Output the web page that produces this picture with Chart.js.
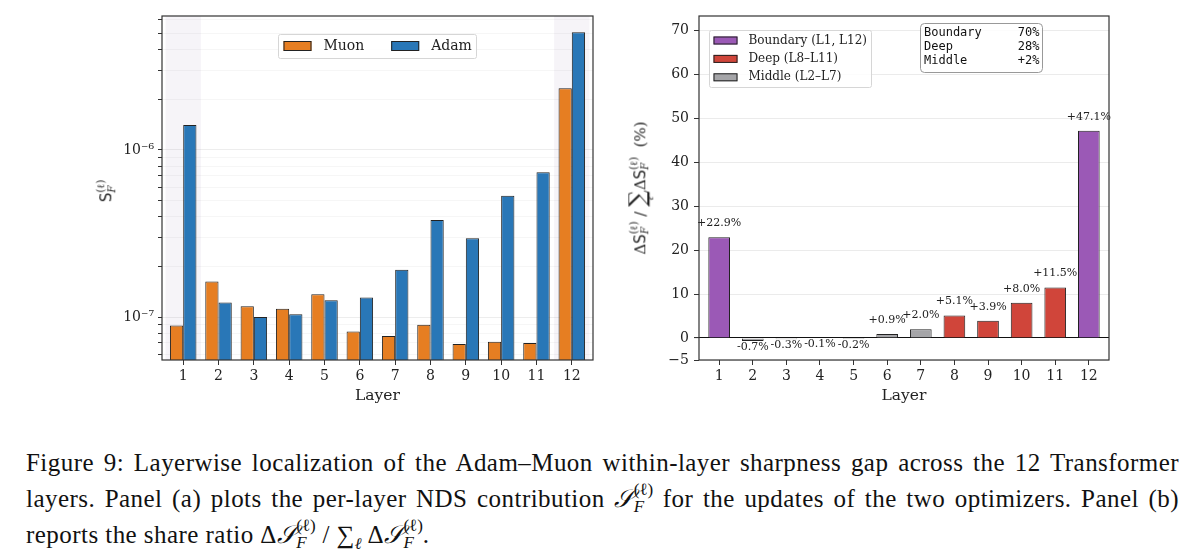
<!DOCTYPE html>
<html>
<head>
<meta charset="utf-8">
<script src="https://cdn.jsdelivr.net/npm/chart.js@4.4.1/dist/chart.umd.min.js"></script>
<style>
  body { margin: 0; background: #fff; width: 1200px; height: 557px; overflow: hidden; position: relative; }
  canvas { position: absolute; top: 0; }
  #leftChart { left: 0; }
  #rightChart { left: 600px; }
  .ytitle { position: absolute; transform: translate(-50%, -50%) rotate(-90deg); white-space: nowrap;
            font-family: 'DejaVu Serif'; font-size: 15px; color: #222; }
  .sans { font-family: 'DejaVu Sans'; }
  .it { font-style: italic; }
  .ss { display: inline-block; vertical-align: -0.32em; line-height: 1.05; font-size: 0.68em; text-align: left; }
  .ss span { display: block; }
  .sig { display: inline-block; vertical-align: -0.55em; line-height: 0.85; text-align: center; }
  .sig span { display: block; }
  .sig .big { font-size: 1.55em; }
  .sig .lo { font-size: 0.6em; font-style: italic; }
  .caption { position: absolute; left: 26px; top: 445px; width: 1153px;
             font-family: 'Liberation Serif'; font-size: 25px; letter-spacing: 0.45px; color: #111; }
  .caption div { height: 36px; line-height: 36px; white-space: nowrap; }
  .caption div.j { text-align: justify; text-align-last: justify; }
  .caption .ss { line-height: 1.0; vertical-align: -0.3em; letter-spacing: 0; }
</style>
</head>
<body>
<canvas id="leftChart" width="600" height="408"></canvas>
<canvas id="rightChart" width="600" height="408"></canvas>

<div class="ytitle" style="left:107px; top:191px;"><span class="sans">S</span><span class="ss"><span>(ℓ)</span><span class="it">F</span></span></div>
<div class="ytitle" style="left:641px; top:188px;">Δ<span class="sans">S</span><span class="ss"><span>(ℓ)</span><span class="it">F</span></span> / <span class="sig"><span class="big">∑</span><span class="lo">ℓ</span></span>Δ<span class="sans">S</span><span class="ss"><span>(ℓ)</span><span class="it">F</span></span> &nbsp;(%)</div>

<div class="caption">
  <div class="j">Figure 9: Layerwise localization of the Adam–Muon within-layer sharpness gap across the 12 Transformer</div>
  <div class="j">layers. Panel (a) plots the per-layer NDS contribution <span class="it">𝒮</span><span class="ss"><span>(ℓ)</span><span class="it">F</span></span> for the updates of the two optimizers. Panel (b)</div>
  <div>reports the share ratio Δ<span class="it">𝒮</span><span class="ss"><span>(ℓ)</span><span class="it">F</span></span> / ∑<sub class="it" style="font-size:0.65em">ℓ</sub> Δ<span class="it">𝒮</span><span class="ss"><span>(ℓ)</span><span class="it">F</span></span>.</div>
</div>

<script>
// values
const layers = [1, 2, 3, 4, 5, 6, 7, 8, 9, 10, 11, 12];
const muonS = [8.9e-8, 1.63e-7, 1.16e-7, 1.12e-7, 1.37e-7, 8.2e-8, 7.7e-8, 9.0e-8, 6.9e-8, 7.1e-8, 7.0e-8, 2.34e-6];
const adamS = [1.41e-6, 1.22e-7, 1.0e-7, 1.04e-7, 1.26e-7, 1.31e-7, 1.92e-7, 3.81e-7, 2.96e-7, 5.33e-7, 7.35e-7, 5.07e-6];
const shareDelta = [22.9, -0.7, -0.3, -0.1, -0.2, 0.9, 2.0, 5.1, 3.9, 8.0, 11.5, 47.1];
const layerGroup = ['Boundary', 'Middle', 'Middle', 'Middle', 'Middle', 'Middle', 'Middle', 'Deep', 'Deep', 'Deep', 'Deep', 'Boundary'];
const groupNames = ['Boundary', 'Deep', 'Middle'];
const groupLabels = ['Boundary (L1, L12)', 'Deep (L8–L11)', 'Middle (L2–L7)'];
const groupTotals = ['70%', '28%', '+2%'];
const boundaryLayers = [1, 12];
const logMajorTicks = [1e-7, 1e-6];
const logMinorTicks = [6e-8, 7e-8, 8e-8, 9e-8, 2e-7, 3e-7, 4e-7, 5e-7, 6e-7, 7e-7, 8e-7, 9e-7, 2e-6, 3e-6, 4e-6, 5e-6, 6e-6];
const shareTicks = [-5, 0, 10, 20, 30, 40, 50, 60, 70];

const optimizerColors = { Muon: '#e67e22', Adam: '#2977b7' };
const groupColors = { Boundary: '#9b59b6', Deep: '#d0453a', Middle: '#a5a5a8' };
const edge = '#222';

Chart.defaults.font.family = 'DejaVu Serif';
Chart.defaults.color = '#222';
Chart.defaults.animation = false;

// full box round the plot area, like matplotlib spines
const frame = {
    id: 'frame',
    afterDraw(chart) {
        const { ctx, chartArea: a } = chart;
        ctx.save();
        ctx.strokeStyle = '#333';
        ctx.lineWidth = 1.2;
        ctx.strokeRect(a.left, a.top, a.right - a.left, a.bottom - a.top);
        ctx.restore();
    }
};

// light band behind the boundary layers (panel a)
const boundaryShade = {
    id: 'boundaryShade',
    beforeDraw(chart) {
        const { ctx, chartArea: a, scales: { x } } = chart;
        ctx.save();
        ctx.fillStyle = 'rgba(140, 110, 165, 0.08)';
        boundaryLayers.forEach(l => {
            const x0 = Math.max(a.left, x.getPixelForValue(l - 0.5));
            const x1 = Math.min(a.right, x.getPixelForValue(l + 0.5));
            ctx.fillRect(x0, a.top, x1 - x0, a.bottom - a.top);
        });
        ctx.restore();
    }
};

function legendPatch(ctx, x, y, w, h, color) {
    ctx.fillStyle = color;
    ctx.fillRect(x, y, w, h);
    ctx.strokeStyle = edge;
    ctx.lineWidth = 1;
    ctx.strokeRect(x + 0.5, y + 0.5, w - 1, h - 1);
}

function roundBox(ctx, x, y, w, h, r, stroke) {
    ctx.beginPath();
    ctx.roundRect(x, y, w, h, r);
    ctx.fillStyle = 'rgba(255,255,255,0.85)';
    ctx.fill();
    ctx.strokeStyle = stroke;
    ctx.lineWidth = 1;
    ctx.stroke();
}

const leftLegend = {
    id: 'leftLegend',
    afterDraw(chart) {
        const ctx = chart.ctx;
        ctx.save();
        roundBox(ctx, 278.5, 34.5, 198, 24, 2, '#d6d6d6');
        ctx.font = '14px "DejaVu Serif"';
        ctx.textBaseline = 'middle';
        chart.data.datasets.forEach((ds, i) => {
            const px = 283.5 + i * 107.7;
            legendPatch(ctx, px, 41, 28, 10, ds.backgroundColor);
            ctx.fillStyle = '#222';
            ctx.fillText(ds.label, px + 40, 46.5);
        });
        ctx.restore();
    }
};

const rightLegend = {
    id: 'rightLegend',
    afterDraw(chart) {
        const ctx = chart.ctx;
        ctx.save();
        roundBox(ctx, 109.5, 30.5, 162, 57, 2, '#d6d6d6');
        ctx.font = '12px "DejaVu Serif"';
        ctx.textBaseline = 'middle';
        groupNames.forEach((g, i) => {
            const cy = 40.5 + i * 18.4;
            legendPatch(ctx, 113.5, cy - 4, 24, 8, groupColors[g]);
            ctx.fillStyle = '#222';
            ctx.fillText(groupLabels[i], 148.5, cy);
        });
        // summary box
        roundBox(ctx, 320.5, 23.5, 122, 49, 4, '#999');
        ctx.font = '12px "DejaVu Sans Mono"';
        groupNames.forEach((g, i) => {
            const cy = 32.5 + i * 14.4;
            ctx.fillStyle = '#111';
            ctx.textAlign = 'left';
            ctx.fillText(g, 324, cy);
            ctx.textAlign = 'right';
            ctx.fillText(groupTotals[i], 439.5, cy);
        });
        ctx.restore();
    }
};

const shareLabels = {
    id: 'shareLabels',
    afterDatasetsDraw(chart) {
        const ctx = chart.ctx;
        const meta = chart.getDatasetMeta(0);
        ctx.save();
        ctx.font = '11px "DejaVu Serif"';
        ctx.fillStyle = '#222';
        ctx.textAlign = 'center';
        ctx.textBaseline = 'middle';
        meta.data.forEach((bar, i) => {
            const v = shareDelta[i];
            const txt = (v > 0 ? '+' : '') + v.toFixed(1) + '%';
            ctx.fillText(txt, bar.x, v >= 0 ? bar.y - 14 : bar.y + 6);
        });
        ctx.restore();
    }
};

function layerAxis() {
    return {
        type: 'linear',
        min: 0.4,
        max: 12.6,
        offset: false,
        afterBuildTicks: s => { s.ticks = layers.map(v => ({ value: v })); },
        afterFit: s => { s.height = 48; },
        ticks: { autoSkip: false, font: { size: 14 }, padding: 3, callback: v => String(v) },
        grid: { offset: false, drawOnChartArea: false, tickColor: '#333', tickLength: 5 },
        border: { display: false },
        title: { display: true, text: 'Layer', font: { size: 15.5 }, padding: { top: 2, bottom: 3 } }
    };
}

// Panel (a): per-layer NDS contribution, log scale
new Chart(document.getElementById('leftChart'), {
    type: 'bar',
    data: {
        datasets: [
            {
                label: 'Muon',
                data: layers.map((l, i) => ({ x: l, y: muonS[i] })),
                backgroundColor: optimizerColors.Muon,
                borderColor: edge,
                borderWidth: 1
            },
            {
                label: 'Adam',
                data: layers.map((l, i) => ({ x: l, y: adamS[i] })),
                backgroundColor: optimizerColors.Adam,
                borderColor: edge,
                borderWidth: 1
            }
        ]
    },
    options: {
        responsive: false,
        categoryPercentage: 0.75,
        barPercentage: 1.0,
        layout: { padding: { top: 16, right: 7, left: 0, bottom: 0 } },
        plugins: { legend: { display: false }, tooltip: { enabled: false } },
        scales: {
            x: layerAxis(),
            y: {
                type: 'logarithmic',
                min: 5.53e-8,
                max: 6.34e-6,
                afterBuildTicks: s => {
                    s.ticks = logMinorTicks.concat(logMajorTicks).sort((a, b) => a - b).map(v => ({ value: v }));
                },
                afterFit: s => { s.width = 162; },
                ticks: {
                    autoSkip: false,
                    font: { size: 14 },
                    padding: 4,
                    callback: v => v === 1e-7 ? '10⁻⁷' : (v === 1e-6 ? '10⁻⁶' : '')
                },
                grid: {
                    color: c => logMajorTicks.includes(c.tick.value) ? 'rgba(0,0,0,0.07)' : 'rgba(0,0,0,0.035)',
                    tickColor: '#333',
                    tickLength: 4
                },
                border: { display: false }
            }
        }
    },
    plugins: [boundaryShade, frame, leftLegend]
});

// Panel (b): share of the sharpness gap per layer
new Chart(document.getElementById('rightChart'), {
    type: 'bar',
    data: {
        datasets: [{
            label: 'share',
            data: layers.map((l, i) => ({ x: l, y: shareDelta[i] })),
            backgroundColor: layerGroup.map(g => groupColors[g]),
            borderColor: edge,
            borderWidth: 1
        }]
    },
    options: {
        responsive: false,
        categoryPercentage: 1.0,
        barPercentage: 0.645,
        layout: { padding: { top: 16, right: 91, left: 0, bottom: 0 } },
        plugins: { legend: { display: false }, tooltip: { enabled: false } },
        scales: {
            x: layerAxis(),
            y: {
                type: 'linear',
                min: -5,
                max: 73.2,
                afterBuildTicks: s => { s.ticks = shareTicks.map(v => ({ value: v })); },
                afterFit: s => { s.width = 99; },
                ticks: {
                    autoSkip: false,
                    font: { size: 14 },
                    padding: 5,
                    callback: v => v < 0 ? '−' + Math.abs(v) : String(v)
                },
                grid: {
                    color: c => c.tick.value === 0 ? '#111' : 'rgba(0,0,0,0.08)',
                    lineWidth: c => c.tick.value === 0 ? 1.1 : 1,
                    tickColor: '#333',
                    tickLength: 5
                },
                border: { display: false }
            }
        }
    },
    plugins: [frame, rightLegend, shareLabels]
});
</script>
</body>
</html>
